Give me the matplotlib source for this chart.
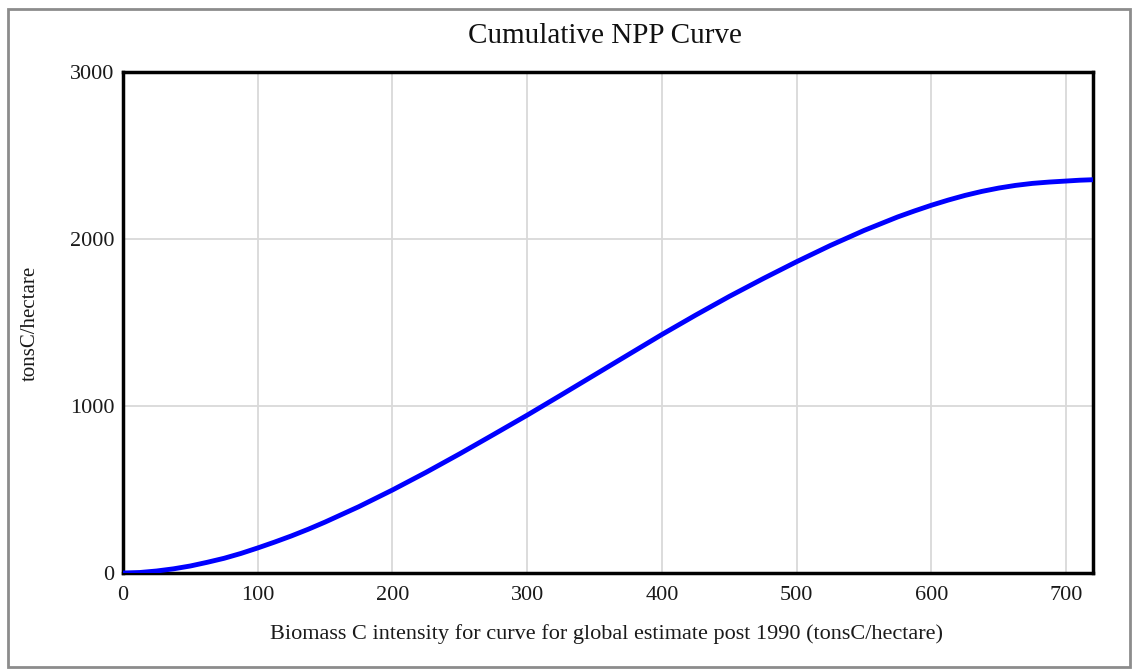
import numpy as np
import matplotlib.pyplot as plt
from matplotlib.patches import Rectangle

# biomass C intensity (tonsC/hectare) and cumulative NPP (tonsC/hectare)
biomass = [0, 12.5, 25, 37.5, 50, 62.5, 75, 87.5, 100, 112.5, 125, 137.5,
           150, 175, 200, 225, 250, 275, 300, 325, 350, 375, 400, 425, 450,
           475, 500, 525, 550, 575, 587.5, 600, 612.5, 625, 637.5, 650,
           662.5, 675, 687.5, 700, 710, 720]
cum_npp = [0, 3, 12, 25, 42, 64, 88, 117, 150, 185, 222, 262,
           305, 397, 497, 603, 714, 829, 945, 1065, 1186, 1307, 1428, 1544, 1656,
           1762, 1864, 1961, 2051, 2132, 2168, 2202, 2233, 2261, 2285, 2305,
           2321, 2333, 2341, 2347, 2352, 2355]

x_ticks = [0, 100, 200, 300, 400, 500, 600, 700]
y_ticks = [0, 1000, 2000, 3000]

plt.rcParams['font.family'] = ['Liberation Serif', 'DejaVu Serif']

W, H = 1134, 669
fig = plt.figure(figsize=(W / 100, H / 100), dpi=100)
ax = fig.add_axes([123 / W, 1 - 573 / H, 970 / W, 501 / H])

ax.plot(biomass, cum_npp, color='#0000ff', lw=3.5, solid_capstyle='butt',
        solid_joinstyle='round', zorder=3)

ax.set_xlim(0, 720)
ax.set_ylim(0, 3000)
ax.set_xticks(x_ticks)
ax.set_yticks(y_ticks)
ax.tick_params(length=0, labelsize=16, colors='#1a1a1a')
ax.tick_params(axis='x', pad=9)
ax.tick_params(axis='y', pad=6)
ax.grid(True, color='#d9d9d9', lw=1.3)
ax.set_axisbelow(True)
for s in ax.spines.values():
    s.set_linewidth(2.5)
    s.set_color('black')

fig.text(605 / W, 1 - 36 / H, 'Cumulative NPP Curve', fontsize=21,
         ha='center', va='center', color='#111111')
fig.text(606 / W, 1 - 634 / H,
         'Biomass C intensity for curve for global estimate post 1990 (tonsC/hectare)',
         fontsize=16, ha='center', va='center', color='#1a1a1a')
fig.text(30 / W, 1 - 323 / H, 'tonsC/hectare', fontsize=15, rotation=90,
         ha='center', va='center', color='#1a1a1a')

# outer frame
fig.patches.append(Rectangle((8 / W, 2 / H), 1122 / W, 658 / H,
                             transform=fig.transFigure, fill=False,
                             edgecolor='#8c8c8c', lw=2))

plt.savefig('out.png', dpi=100)
